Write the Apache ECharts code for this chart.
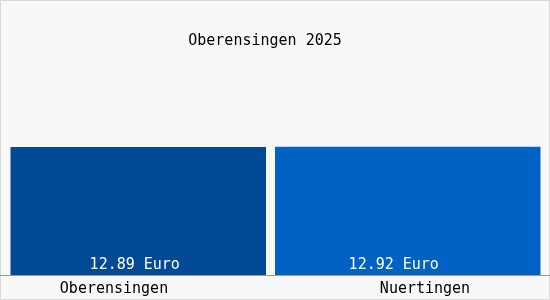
<!DOCTYPE html>
<html><head><meta charset="utf-8">
<script src="https://cdn.jsdelivr.net/npm/echarts@6/dist/echarts.min.js"></script>
<style>html,body{margin:0;padding:0;background:#f8f8f8}#c{width:550px;height:300px}</style>
</head><body><div id="c"></div>
<script>
const titleText = 'Oberensingen 2025';
const categories = ['Oberensingen', 'Nuertingen'];
const values = [12.89, 12.92];
const unit = 'Euro';
const colors = ['#024a96', '#0262c3'];
const FONT = '"DejaVu Sans Mono", monospace';

const chart = echarts.init(document.getElementById('c'), null, {renderer: 'canvas'});
const labelFmt = p => p.value.toFixed(2) + ' ' + unit;
chart.setOption({
  backgroundColor: '#f8f8f8',
  animation: false,
  title: {
    text: titleText, left: 260, top: 29, textAlign: 'center',
    textStyle: {fontFamily: FONT, fontSize: 15, fontWeight: 'normal', color: '#000'}
  },
  grid: [
    {left: 10.5, right: 9.5, top: 126, bottom: 25},
    {left: 0, right: 0, top: 126, bottom: 25}
  ],
  xAxis: [
    {type: 'category', data: categories, gridIndex: 0,
     axisLine: {show: false}, axisTick: {show: false},
     axisLabel: {
       margin: 7, fontFamily: FONT, fontSize: 15, color: '#000',
       formatter: (v, i) => i === 0 ? '{l|' + v + '}' : '{r|' + v + '}',
       rich: {l: {padding: [0, 58, 0, 0], fontFamily: FONT, fontSize: 15}, r: {padding: [0, 0, 0, 34], fontFamily: FONT, fontSize: 15}}
     }},
    {type: 'category', data: categories, gridIndex: 1,
     axisLine: {show: true, lineStyle: {color: '#999', width: 1}},
     axisTick: {show: false}, axisLabel: {show: false}}
  ],
  yAxis: [
    {type: 'value', min: 0, max: 15, gridIndex: 0, show: false},
    {type: 'value', min: 0, max: 15, gridIndex: 1, show: false}
  ],
  series: [
    {type: 'bar', xAxisIndex: 0, yAxisIndex: 0, barWidth: 256, barGap: '-100%',
     data: [values[0], '-'], itemStyle: {color: colors[0]},
     label: {show: true, position: 'insideBottom', distance: 2, offset: [-3.5, 0],
       formatter: labelFmt, color: '#fff', fontFamily: FONT, fontSize: 15}},
    {type: 'bar', xAxisIndex: 0, yAxisIndex: 0, barWidth: 266, barGap: '-100%',
     data: ['-', values[1]], itemStyle: {color: colors[1]},
     label: {show: true, position: 'insideBottom', distance: 2, offset: [-14, 0],
       formatter: labelFmt, color: '#fff', fontFamily: FONT, fontSize: 15}}
  ],
  graphic: [{type: 'rect', shape: {x: 0.5, y: 0.5, width: 549, height: 299},
    style: {fill: 'none', stroke: '#d8d8d8', lineWidth: 1}, silent: true}]
});
</script></body></html>
